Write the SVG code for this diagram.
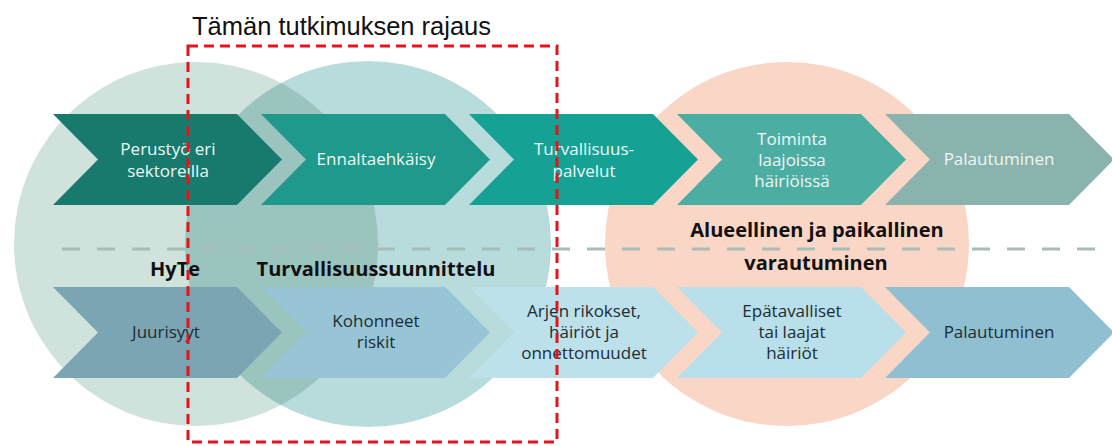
<svg xmlns="http://www.w3.org/2000/svg" width="1112" height="446" viewBox="0 0 1112 446">
<style>
.ct{font-family:"Open Sans","Noto Sans",sans-serif;font-size:17px;fill:#eef7f5;text-anchor:middle}
.cb{font-family:"Open Sans","Noto Sans",sans-serif;font-size:17px;fill:#1c2c33;text-anchor:middle}
.lbl{font-family:"Open Sans","Noto Sans",sans-serif;font-size:20px;font-weight:bold;fill:#111;text-anchor:middle}
.title{font-family:"Liberation Sans",Arial,sans-serif;font-size:25.5px;fill:#111}
</style>
<defs>
<path id="chev" d="M0,0 H184 L229,45.5 L184,91 H0 L45,45.5 Z"/>
<clipPath id="c1"><circle cx="196" cy="244" r="182"/></clipPath>
</defs>
<g id="circles">
<circle id="circle-hyte" cx="196" cy="244" r="182" fill="#d0e2dc"/>
<circle id="circle-turva" cx="368" cy="244" r="183" fill="#b8dbdb"/>
<circle cx="368" cy="244" r="183" fill="#9cc4bf" clip-path="url(#c1)"/>
<circle id="circle-alue" cx="787" cy="244" r="182" fill="#f9d6c6"/>
</g>
<line id="divider" x1="62" y1="249" x2="1112" y2="249" stroke="#a8bdb9" stroke-width="3" stroke-dasharray="18 17"/>
<g id="top-1"><use href="#chev" x="53" y="114" fill="#187a6d"/><text class="ct" x="168" y="155">Perustyö eri</text><text class="ct" x="168" y="177">sektoreilla</text></g>
<g id="top-2"><use href="#chev" x="261" y="114" fill="#1e998b"/><text class="ct" x="376" y="165">Ennaltaehkäisy</text></g>
<g id="top-3"><use href="#chev" x="469" y="114" fill="#15a295"/><text class="ct" x="584" y="155">Turvallisuus-</text><text class="ct" x="584" y="177">palvelut</text></g>
<g id="top-4"><use href="#chev" x="677" y="114" fill="#4cada2"/><text class="ct" x="792" y="145">Toiminta</text><text class="ct" x="792" y="166">laajoissa</text><text class="ct" x="792" y="187">häiriöissä</text></g>
<g id="top-5"><use href="#chev" x="885" y="114" fill="#8bb3ad"/><text class="ct" x="999" y="165">Palautuminen</text></g>
<g id="bottom-1"><use href="#chev" x="53" y="287" fill="#7ba5b2"/><text class="cb" x="166" y="338">Juurisyyt</text></g>
<g id="bottom-2"><use href="#chev" x="261" y="287" fill="#97c5d6"/><text class="cb" x="376" y="327">Kohonneet</text><text class="cb" x="376" y="348">riskit</text></g>
<g id="bottom-3"><use href="#chev" x="469" y="287" fill="#bce1eb"/><text class="cb" x="584" y="317">Arjen rikokset,</text><text class="cb" x="584" y="338">häiriöt ja</text><text class="cb" x="584" y="359">onnettomuudet</text></g>
<g id="bottom-4"><use href="#chev" x="677" y="287" fill="#b8dfea"/><text class="cb" x="792" y="317">Epätavalliset</text><text class="cb" x="792" y="338">tai laajat</text><text class="cb" x="792" y="359">häiriöt</text></g>
<g id="bottom-5"><use href="#chev" x="885" y="287" fill="#8fbfd0"/><text class="cb" x="999" y="338">Palautuminen</text></g>
<g id="labels">
<text class="lbl" x="175" y="276">HyTe</text>
<text class="lbl" x="376" y="276">Turvallisuussuunnittelu</text>
<text class="lbl" x="817" y="237">Alueellinen ja paikallinen</text>
<text class="lbl" x="816" y="270">varautuminen</text>
</g>
<g id="scope">
<text class="title" x="192" y="35">Tämän tutkimuksen rajaus</text>
<rect x="188" y="46" width="369" height="396" fill="none" stroke="#e3151b" stroke-width="3" stroke-dasharray="10 6"/>
</g>
<g id="connectors"/>
</svg>
